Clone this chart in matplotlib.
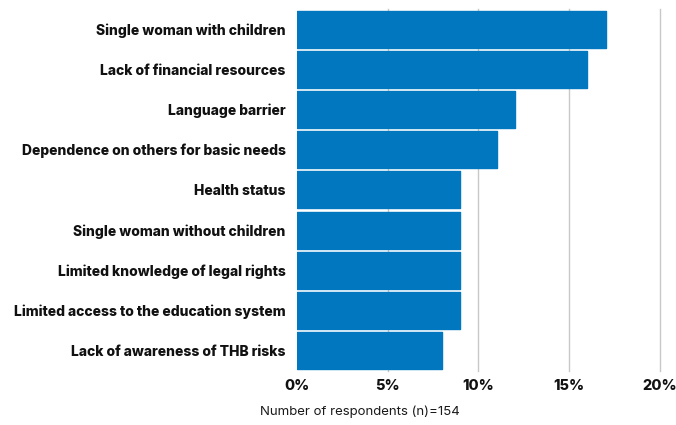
import matplotlib.pyplot as plt
from matplotlib.ticker import FuncFormatter

plt.rcParams['font.family'] = ['Inter', 'DejaVu Sans']

categories = [
    "Single woman with children",
    "Lack of financial resources",
    "Language barrier",
    "Dependence on others for basic needs",
    "Health status",
    "Single woman without children",
    "Limited knowledge of legal rights",
    "Limited access to the education system",
    "Lack of awareness of THB risks",
]
shares = [17, 16, 12, 11, 9, 9, 9, 9, 8]
x_ticks = [0, 5, 10, 15, 20]

fig = plt.figure(figsize=(6.76, 4.25), dpi=100)
ax = fig.add_axes([0.4393, 0.127, 0.537, 0.852])

ypos = list(range(len(categories)))
bars = ax.barh(ypos, shares, height=0.92, color="#0077BE",
               edgecolor="#0077BE", linewidth=1, zorder=2)
for b in bars:
    b.set_joinstyle("round")

ax.set_ylim(len(categories) - 0.5, -0.5)
ax.set_xlim(0, 20)
ax.set_xticks(x_ticks)
ax.xaxis.set_major_formatter(FuncFormatter(lambda v, _: f"{v:.0f}%"))
ax.set_yticks(ypos)
ax.set_yticklabels(categories, fontsize=10, fontweight=800, color="#111111")

for t in x_ticks[1:]:
    ax.axvline(t, color="#c8c8c8", linewidth=1, zorder=1, clip_on=False)

for s in ax.spines.values():
    s.set_visible(False)
ax.tick_params(axis="both", length=0)
ax.tick_params(axis="y", pad=8)
ax.tick_params(axis="x", pad=6, labelsize=10.5, labelcolor="#111111")
for lab in ax.get_xticklabels():
    lab.set_fontweight(800)

fig.text(0.533, 0.03, "Number of respondents (n)=154", ha="center",
         va="center", fontsize=9.5, color="#1a1a1a")

fig.savefig("out.png", dpi=100)
